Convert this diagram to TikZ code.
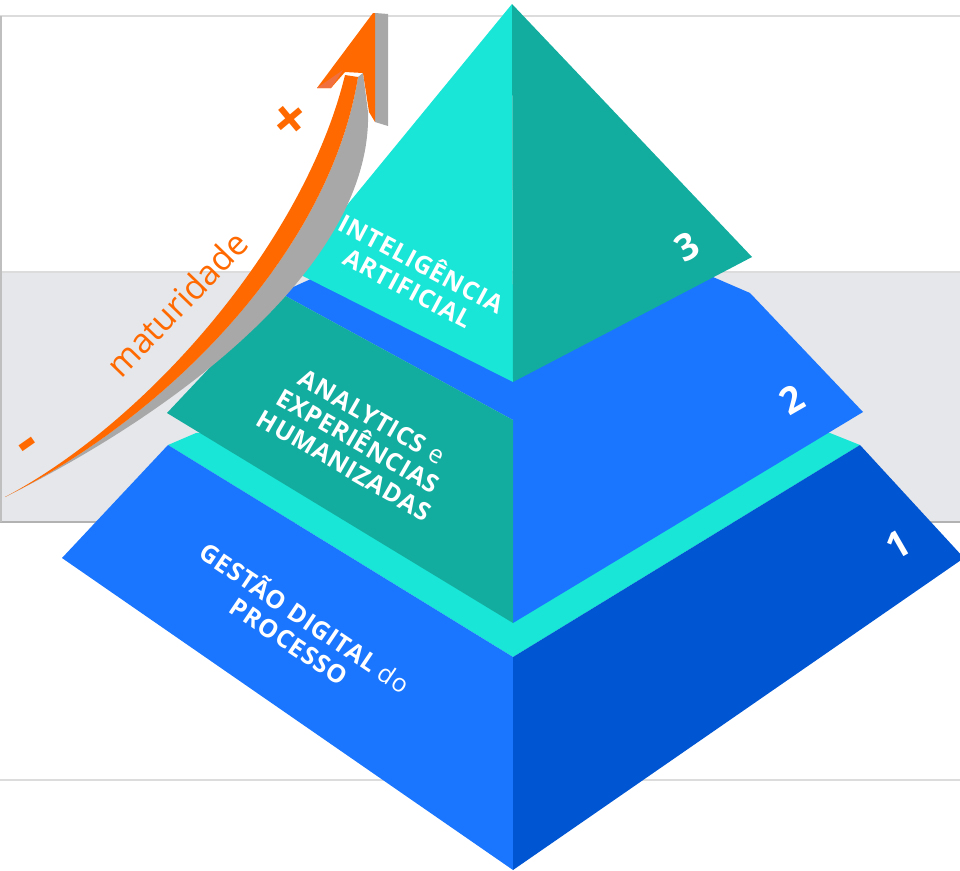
\documentclass[tikz,border=0pt]{standalone}
\usepackage{fontspec}
\setmainfont{Open Sans}
\usepackage{xcolor}
\definecolor{cyanface}{HTML}{19E6D6}
\definecolor{tealface}{HTML}{13AD9F}
\definecolor{blueface}{HTML}{1A75FF}
\definecolor{darkface}{HTML}{0055D2}
\definecolor{arroworange}{HTML}{FF6900}
\definecolor{arrowfacet}{HTML}{F07040}
\definecolor{arrowshade}{HTML}{A8A8A8}
\definecolor{bandgray}{HTML}{E6E7EA}
\definecolor{rulegray}{HTML}{DCDCDC}
\tikzstyle{pyrtext}=[text=white, align=center, font=\bfseries\fontsize{25}{28}\selectfont\addfontfeatures{LetterSpace=3}]
\tikzstyle{pyrnum}=[text=white, rotate=30, font=\bfseries\fontsize{37}{37}\selectfont]
\tikzstyle{signtext}=[text=arroworange, font=\bfseries\fontsize{58}{58}\selectfont]

\begin{document}
\begin{tikzpicture}[x=1pt,y=-1pt]
  \useasboundingbox (0,0) rectangle (960,870);
  \clip (0,0) rectangle (960,870);
  % background band and rules
  \fill[bandgray] (0,272) rectangle (960,522);
  \draw[rulegray, line width=2pt] (0,16) -- (960,16);
  \draw[rulegray, line width=1.5pt] (0,272) -- (960,272);
  \draw[black!30, line width=1.5pt] (0,522) -- (960,522);
  \draw[black!25, line width=1.5pt] (1,16) -- (1,522);
  \draw[rulegray, line width=2pt] (0,780) -- (960,780);
  % level 1
  \fill[cyanface] (168,445) -- (196,433) -- (513,425) -- (830,433) -- (860,445) -- (513,657) -- cycle;
  \fill[blueface] (62,558) -- (168,445) -- (513,657) -- (513,870) -- cycle;
  \fill[darkface] (513,657) -- (860,445) -- (964,558) -- (513,870) -- cycle;
  % level 2
  \fill[blueface] (280,293) -- (313,278) -- (513,300) -- (713,277) -- (750,293) -- (863,412) -- (513,623) -- (513,420) -- cycle;
  \fill[tealface] (167,413) -- (280,293) -- (513,420) -- (513,623) -- cycle;
  % level 3
  \fill[cyanface] (512,4) -- (293,271) -- (513,382) -- cycle;
  \fill[tealface] (512,4) -- (752,257) -- (513,382) -- cycle;
  % arrow
  \fill[arrowshade] (5,497) .. controls (200,400) and (372,255) .. (368,112) -- (363,73) -- (358,77) .. controls (330,250) and (170,415) .. (5,497) -- cycle;
  \fill[arrowshade] (375,13) -- (388,14) -- (388,126) -- (375,122) -- cycle;
  \fill[arroworange] (5,497) .. controls (150,420) and (305,240) .. (345,75) -- (358,77) .. controls (330,250) and (170,415) .. (5,497) -- cycle;
  \fill[arroworange] (373,13) -- (317,88) -- (331,88) -- (345,72) -- (363,73) -- (369,112) -- (375,122) -- (375,13) -- cycle;
  \fill[arrowfacet] (317,88) -- (343,70) -- (331,88) -- cycle;
  % labels
  \node[pyrtext, rotate=-28] (ia) at (416,274) {INTELIGÊNCIA\\ARTIFICIAL};
  \node[pyrtext, rotate=-30] (an) at (358,441) {ANALYTICS {\mdseries e}\\EXPERIÊNCIAS\\HUMANIZADAS};
  \node[pyrtext, rotate=-34] (gd) at (298,628) {GESTÃO DIGITAL {\mdseries do}\\PROCESSO};
  \node[pyrnum] (n3) at (687,247) {3};
  \node[pyrnum] (n2) at (792,400) {2};
  \node[pyrnum] (n1) at (898,545) {1};
  \node[text=arroworange, rotate=46, anchor=base, font=\fontsize{34}{34}\selectfont] (mat) at (186,313) {maturidade};
  \node[signtext, rotate=35] (menos) at (31,449) {-};
  \node[signtext, rotate=40] (mais) at (292,122) {+};
\end{tikzpicture}
\end{document}
